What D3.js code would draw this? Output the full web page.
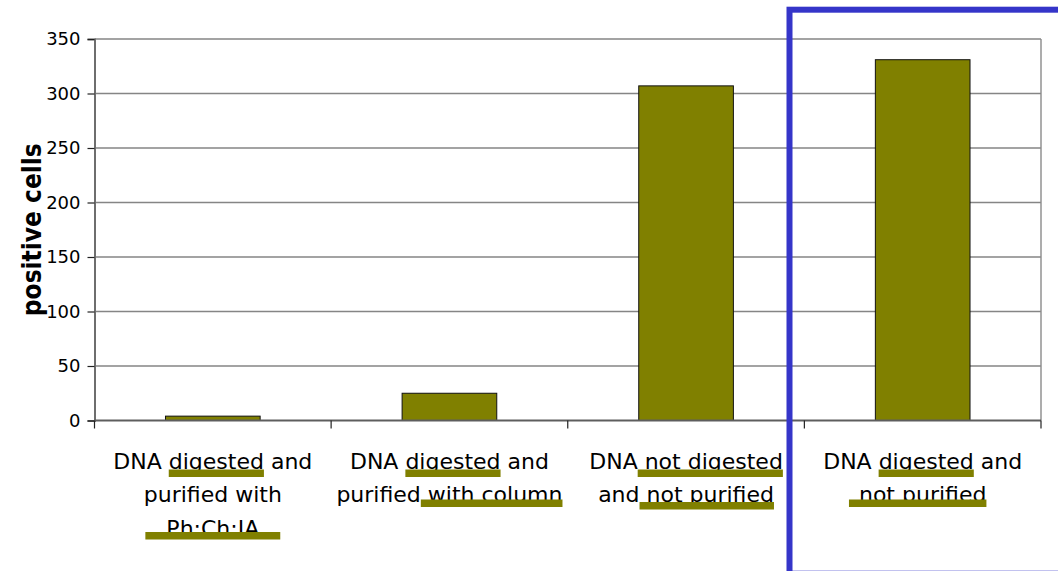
<!DOCTYPE html>
<html>
<head>
<meta charset="utf-8">
<script src="https://cdn.jsdelivr.net/npm/d3@7"></script>
<style>
  html, body { margin: 0; padding: 0; background: #fff; }
  svg { display: block; }
</style>
</head>
<body>
<svg id="chart" width="1058" height="571"></svg>
<script>
// Treatment groups (one label line per entry)
const categories = [
  ["DNA digested and", "purified with", "Ph:Ch:IA"],
  ["DNA digested and", "purified with column"],
  ["DNA not digested", "and not purified"],
  ["DNA digested and", "not purified"]
];
const positiveCells = [4, 25, 307, 331];
const yTicks = [0, 50, 100, 150, 200, 250, 300, 350];
const yTitle = "positive cells";

// Highlighted words in the labels: category, line, first char, end char
const highlightCat   = [0, 0, 1, 1, 2, 2, 3, 3];
const highlightLine  = [0, 2, 0, 1, 0, 1, 0, 1];
const highlightFrom  = [4, 0, 4, 8, 3, 3, 4, 0];
const highlightTo    = [12, 8, 12, 20, 16, 16, 12, 12];

const svg = d3.select("#chart");
const plot = { left: 94.5, right: 1041, top: 39, bottom: 420.5 };
const olive = "#808000";

const keys = categories.map((c, i) => i);
const x = d3.scaleBand().domain(keys).range([plot.left, plot.right]).paddingInner(0).paddingOuter(0);
const y = d3.scaleLinear().domain([0, 350]).range([plot.bottom, plot.top]);

// Horizontal gridlines
svg.append("g")
  .selectAll("line")
  .data(yTicks.filter(d => d > 0))
  .join("line")
  .attr("x1", plot.left).attr("x2", plot.right)
  .attr("y1", d => y(d)).attr("y2", d => y(d))
  .attr("stroke", "#858585").attr("stroke-width", 1.4);

// Right edge of the plot area
svg.append("line")
  .attr("x1", plot.right).attr("x2", plot.right)
  .attr("y1", plot.top).attr("y2", plot.bottom)
  .attr("stroke", "#8a8a8a").attr("stroke-width", 1.4);

// Bars
const bw = x.bandwidth() * 0.4;
svg.append("g")
  .selectAll("rect")
  .data(positiveCells)
  .join("rect")
  .attr("x", (d, i) => x(i) + (x.bandwidth() - bw) / 2)
  .attr("width", bw)
  .attr("y", d => y(d))
  .attr("height", d => y(0) - y(d))
  .attr("fill", olive)
  .attr("stroke", "#111").attr("stroke-width", 1);

// Y axis
const yAxis = d3.axisLeft(y).tickValues(yTicks).tickSize(7).tickPadding(7);
const gy = svg.append("g").attr("transform", `translate(${plot.left},0)`).call(yAxis);
gy.select(".domain").attr("stroke", "#6e6e6e").attr("stroke-width", 2);
gy.selectAll(".tick line").attr("stroke", "#222").attr("stroke-width", 1.2);
gy.selectAll(".tick text")
  .attr("font-family", "'DejaVu Sans', Verdana, sans-serif")
  .attr("font-size", 18).attr("fill", "#000");

// X axis baseline with ticks at category boundaries
svg.append("line")
  .attr("x1", plot.left).attr("x2", plot.right)
  .attr("y1", y(0)).attr("y2", y(0))
  .attr("stroke", "#5e5e5e").attr("stroke-width", 2);
const bounds = keys.map(k => x(k)).concat([x.range()[1]]);
svg.append("g")
  .selectAll("line")
  .data(bounds)
  .join("line")
  .attr("x1", d => d).attr("x2", d => d)
  .attr("y1", y(0)).attr("y2", y(0) + 8)
  .attr("stroke", "#222").attr("stroke-width", 1.2);

// Y title
svg.append("text")
  .attr("transform", `translate(41,${(plot.top + plot.bottom) / 2}) rotate(-90)`)
  .attr("text-anchor", "middle")
  .attr("font-family", "'DejaVu Sans Condensed', 'DejaVu Sans', sans-serif")
  .attr("font-weight", "bold")
  .attr("font-size", 26)
  .attr("fill", "#000")
  .text(yTitle);

// Category labels
const lineH = 33.5;
const firstBase = 468.5;
const labelGroups = svg.append("g")
  .selectAll("text")
  .data(categories)
  .join("text")
  .attr("text-anchor", "middle")
  .attr("font-family", "'DejaVu Sans', Verdana, sans-serif")
  .attr("font-size", 22)
  .attr("fill", "#000");
labelGroups.each(function (lines, i) {
  const t = d3.select(this);
  lines.forEach((ln, j) => {
    t.append("tspan")
      .attr("x", x(i) + x.bandwidth() / 2)
      .attr("y", firstBase + j * lineH)
      .text(ln);
  });
});

// Olive marker strokes under highlighted words
const marks = svg.append("g");
highlightCat.forEach((c, k) => {
  const lineIdx = highlightLine[k];
  const tspan = labelGroups.nodes()[c].childNodes[lineIdx];
  const from = highlightFrom[k], to = highlightTo[k];
  const x0 = tspan.getStartPositionOfChar(from).x;
  const x1 = tspan.getEndPositionOfChar(to - 1).x;
  const base = firstBase + lineIdx * lineH;
  const padL = lineIdx === 2 ? 21 : (c === 3 && lineIdx === 1 ? 10 : 0);
  const padR = lineIdx === 2 ? 21 : 0;
  const dy = lineIdx === 0 ? 1 : (lineIdx === 1 ? (c === 2 ? 0 : -2.5) : -3.5);
  marks.append("rect")
    .attr("x", x0 - padL)
    .attr("y", base + dy)
    .attr("width", x1 - x0 + padL + padR)
    .attr("height", 7.5)
    .attr("fill", olive);
});

// Blue highlight frame around the last group
svg.append("rect")
  .attr("x", 789.5).attr("y", 9.7)
  .attr("width", 300).attr("height", 564)
  .attr("fill", "none")
  .attr("stroke", "#3535c9").attr("stroke-width", 6);
</script>
</body>
</html>
